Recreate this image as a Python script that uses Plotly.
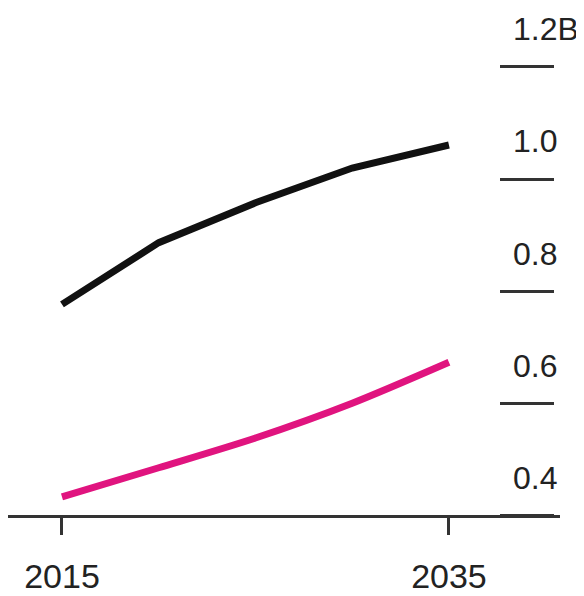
import plotly.graph_objects as go

# Data
years = [2015, 2020, 2025, 2030, 2035]
black_series = [0.777, 0.887, 0.958, 1.020, 1.061]
pink_series = [0.434, 0.486, 0.539, 0.601, 0.674]

y_tickvals = [0.4, 0.6, 0.8, 1.0, 1.2]
y_ticktext = ["0.4", "0.6", "0.8", "1.0", "1.2B"]
x_tickvals = [2015, 2035]
x_ticktext = ["2015", "2035"]

OFF = 8  # page body margin
W, H = 584 - OFF, 596 - OFF
Y_RANGE = [0.39, 1.21]
X_RANGE = [2012.21, 2040.74]

# pixel scale of the value axis in the reference: 0.4 at y=516, 0.2 per 112.25 px
PX_PER_UNIT = 112.25 / 0.2
Y_BOTTOM_PX = 516 + (0.4 - Y_RANGE[0]) * PX_PER_UNIT
Y_TOP_PX = 516 - (Y_RANGE[1] - 0.4) * PX_PER_UNIT


def px_x(p):
    return min(max((p - OFF) / W, 0), 1)


def px_y(p):
    return min(max((H - (p - OFF)) / H, 0), 1)


FONT = "Liberation Sans"
TEXT = "#222222"
AXIS = "#333333"

fig = go.Figure()
fig.add_trace(go.Scatter(x=years, y=black_series, mode="lines",
                         line=dict(color="#111111", width=7), hoverinfo="skip", showlegend=False))
fig.add_trace(go.Scatter(x=years, y=pink_series, mode="lines",
                         line=dict(color="#e0147f", width=7, shape="spline", smoothing=0.8),
                         hoverinfo="skip", showlegend=False))
# empty trace so the right-hand tick-dash axis is drawn
fig.add_trace(go.Scatter(x=[], y=[], xaxis="x2", yaxis="y2", mode="lines",
                         hoverinfo="skip", showlegend=False))

fig.update_layout(
    width=W, height=H,
    margin=dict(l=0, r=0, t=0, b=0),
    paper_bgcolor="white", plot_bgcolor="rgba(0,0,0,0)",
    font=dict(family=FONT, color=TEXT, size=32),
    xaxis=dict(
        domain=[px_x(8), px_x(560)], range=X_RANGE, showgrid=False, zeroline=False,
        showline=True, linecolor=AXIS, linewidth=3,
        ticks="outside", ticklen=17, tickwidth=3, tickcolor=AXIS,
        tickvals=x_tickvals, ticktext=x_ticktext,
        tickfont=dict(family=FONT, size=34, color=TEXT),
        ticklabelstandoff=12,
        automargin=False, anchor="free", position=px_y(516), fixedrange=True,
    ),
    yaxis=dict(
        domain=[px_y(Y_BOTTOM_PX), px_y(Y_TOP_PX)], range=Y_RANGE, visible=False,
        automargin=False, anchor="x", fixedrange=True,
    ),
    xaxis2=dict(
        domain=[px_x(500), px_x(554)], range=[0, 1], visible=False, anchor="y2",
        fixedrange=True,
    ),
    yaxis2=dict(
        domain=[px_y(Y_BOTTOM_PX), px_y(Y_TOP_PX)], range=Y_RANGE, anchor="x2", side="right",
        showgrid=True, gridcolor=AXIS, gridwidth=3, zeroline=False, showline=False,
        ticks="", tickvals=y_tickvals, ticktext=y_ticktext,
        ticklabelposition="outside", ticklabelstandoff=-42, ticklabelshift=-38,
        tickfont=dict(family=FONT, size=32, color=TEXT),
        automargin=False, fixedrange=True,
    ),
)

fig.write_html("out.html", config={"displayModeBar": False})
